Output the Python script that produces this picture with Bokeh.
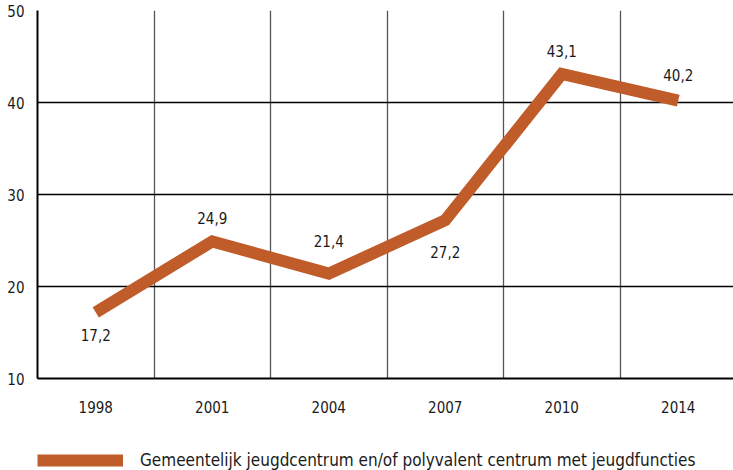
from bokeh.plotting import figure
from bokeh.layouts import column
from bokeh.models import Range1d, FixedTicker, Legend, LegendItem, ColumnDataSource
from bokeh.core.properties import value
from bokeh.embed import file_html
from bokeh.resources import INLINE

years = ["1998", "2001", "2004", "2007", "2010", "2014"]
values = [17.2, 24.9, 21.4, 27.2, 43.1, 40.2]
labels = ["17,2", "24,9", "21,4", "27,2", "43,1", "40,2"]
series_name = "Gemeentelijk jeugdcentrum en/of polyvalent centrum met jeugdfuncties"
y_ticks = [10, 20, 30, 40, 50]

# label placement (style): pixel offsets above (+) / below (-) each point
label_offsets = [-23, 23, 33, -32, 23, 26]

FONT = "DejaVu Sans Condensed"
FS = "15px"
ORANGE = "#C05B2A"
LINE_STYLE = dict(line_color=ORANGE, line_width=12, line_join="miter", line_cap="butt")

xs = [i + 0.5 for i in range(len(years))]
src = ColumnDataSource(dict(x=xs, y=values, lab=labels, off=[-o for o in label_offsets]))

p = figure(frame_width=696, frame_height=368, output_backend="svg", toolbar_location=None,
           x_range=Range1d(0, 5.974), y_range=Range1d(10, 50),
           min_border_left=37, min_border_top=10, min_border_right=0, min_border_bottom=50)
p.outline_line_color = None
p.background_fill_color = "white"
p.border_fill_color = "white"

r = p.line("x", "y", source=src, **LINE_STYLE)
p.text("x", "y", text="lab", source=src, y_offset="off", text_align="center",
       text_baseline="middle", text_font=value(FONT), text_font_size=FS,
       text_color="#1a1a1a")

# axes
p.xaxis.ticker = FixedTicker(ticks=xs)
p.xaxis.major_label_overrides = {x: y for x, y in zip(xs, years)}
p.yaxis.ticker = FixedTicker(ticks=y_ticks)
for ax in (p.xaxis[0], p.yaxis[0]):
    ax.major_tick_line_color = None
    ax.minor_tick_line_color = None
    ax.axis_line_color = "black"
    ax.axis_line_width = 2
    ax.major_label_text_font = FONT
    ax.major_label_text_font_size = FS
    ax.major_label_text_color = "#1a1a1a"
p.xaxis.major_label_standoff = 16
p.yaxis.major_label_standoff = 7

# grids
p.xgrid.ticker = FixedTicker(ticks=[1, 2, 3, 4, 5])
p.xgrid.grid_line_color = "#555555"
p.xgrid.grid_line_width = 1.3
p.ygrid.ticker = FixedTicker(ticks=y_ticks)
p.ygrid.grid_line_color = "black"
p.ygrid.grid_line_width = 1.4

# legend strip below the chart (its line renderer shares the series data, which
# lies outside this strip's ranges, so only the legend sample is visible)
lg = figure(frame_width=733, frame_height=42, output_backend="svg", toolbar_location=None,
            x_range=Range1d(0, 1), y_range=Range1d(0, 1), x_axis_type=None, y_axis_type=None,
            min_border_left=0, min_border_right=0, min_border_top=0, min_border_bottom=0)
lg.outline_line_color = None
lg.grid.visible = False
lg.background_fill_color = "white"
lg.border_fill_color = "white"
lr = lg.line("x", "y", source=src, **LINE_STYLE)
legend = Legend(items=[LegendItem(label=series_name, renderers=[lr])],
                location=(37, 0), padding=0, margin=0, border_line_color=None,
                background_fill_alpha=0, glyph_width=86, glyph_height=20,
                label_height=20, label_standoff=17, label_text_font=FONT,
                label_text_font_size="17px", label_text_color="#1a1a1a")
lg.add_layout(legend, "center")

layout = column(p, lg, spacing=0)
open("out.html", "w").write(file_html(layout, INLINE))
